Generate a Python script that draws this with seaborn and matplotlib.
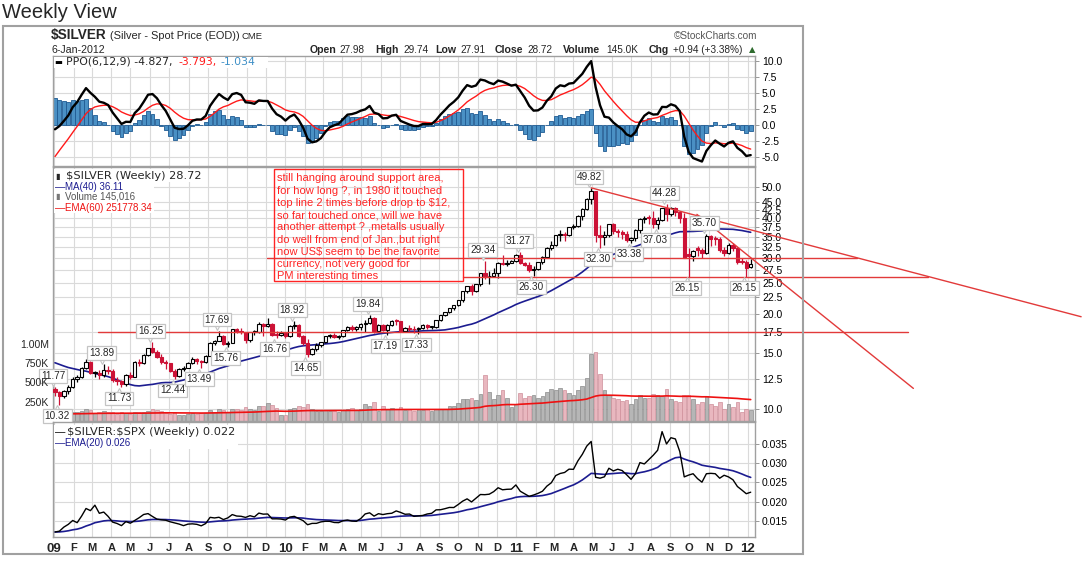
import numpy as np
import pandas as pd
import matplotlib
matplotlib.use("Agg")
import matplotlib.pyplot as plt
import matplotlib.patches as mpatches
import matplotlib.transforms as mtransforms
import matplotlib.ticker as mticker
import matplotlib.dates as mdates
import seaborn as sns

# ── Style ──────────────────────────────────────────────────────
sns.set_theme(style="white")
plt.rcParams.update({
    "font.family": ["Liberation Sans", "DejaVu Sans"],
    "axes.facecolor": "white",
    "figure.facecolor": "white",
})

CANDLE_RED = "#cc1236"
GRID = "#dadada"
SPINE = "#a0a0a0"
NAVY = "#1c1c90"
HIST_FACE = "#4a90c4"
HIST_EDGE = "#1f5b93"
VOL_UP, VOL_UP_EDGE = "#b6b6b6", "#8c8c8c"
VOL_DN, VOL_DN_EDGE = "#e9b7bf", "#cf8f9a"
TREND = "#e23a3a"
ANNO = "#ff2424"
LABEL_EDGE = "#c4c4c4"

# ── Data (weekly, 2-Jan-2009 .. 6-Jan-2012) ────────────────────
weeks = pd.date_range("2009-01-02", periods=158, freq="W-FRI")

open_ = [
    11.60, 11.30, 11.00, 11.40, 11.75, 12.50, 12.65, 13.45, 14.05, 13.00,
    13.05, 12.85, 13.30, 13.20, 12.40, 12.30, 12.00, 12.85, 12.65, 14.05,
    14.00, 14.80, 15.55, 15.20, 14.65, 14.10, 13.95, 13.25, 12.75, 13.35,
    13.50, 14.00, 14.40, 14.20, 14.10, 14.75, 16.20, 16.45, 17.05, 16.05,
    16.20, 17.85, 17.70, 17.50, 16.50, 17.50, 17.55, 18.60, 18.30, 18.60,
    17.20, 17.15,
    17.45, 17.00, 18.35, 18.40, 17.05, 16.20, 14.95, 15.45, 15.95, 16.30,
    17.00, 17.15, 16.95, 17.00, 17.75, 18.20, 17.85, 18.15, 18.55, 18.70,
    19.45, 17.70, 18.40, 17.75, 18.45, 19.00, 18.95, 17.60, 18.05, 17.90,
    17.85, 18.00, 18.45, 18.15, 18.20, 19.05, 19.80, 20.20, 20.85, 21.25,
    22.10, 23.50, 24.40, 23.60, 24.75, 26.80, 26.20, 26.35, 26.90, 28.95,
    28.65, 28.90, 29.25,
    30.65, 28.90, 28.50, 27.45, 27.75, 29.05, 30.20, 32.30, 32.90, 35.40,
    35.65, 35.30, 37.40, 37.85, 40.65, 42.65, 46.05, 48.60, 35.30, 34.95,
    35.30, 38.20, 36.40, 36.15, 35.70, 34.25, 34.60, 36.70, 39.70, 40.10,
    40.00, 38.45, 39.35, 42.95, 41.20, 43.00, 41.90, 40.15, 30.90, 30.45,
    32.10, 31.85, 31.05, 35.05, 34.60, 34.45, 31.75, 31.15, 32.90, 32.25,
    29.20, 29.15,
    27.98,
]
high = [
    11.77, 11.45, 11.50, 11.90, 12.60, 12.85, 13.55, 14.40, 14.15, 13.25,
    13.30, 13.89, 13.70, 13.35, 12.60, 12.40, 12.95, 13.10, 14.15, 14.45,
    14.90, 15.65, 16.25, 15.35, 14.90, 14.35, 14.00, 13.35, 13.45, 13.70,
    14.05, 14.65, 14.50, 14.30, 14.85, 16.25, 16.55, 17.69, 17.20, 16.40,
    17.95, 18.10, 18.05, 17.55, 17.55, 17.80, 18.80, 18.75, 19.40, 18.65,
    17.65, 17.60,
    17.55, 18.45, 18.92, 18.50, 17.10, 16.65, 15.65, 16.15, 16.35, 17.05,
    17.25, 17.45, 17.20, 17.80, 18.35, 18.40, 18.25, 18.65, 19.05, 19.84,
    19.50, 18.55, 18.60, 18.50, 19.10, 19.25, 19.00, 18.15, 18.45, 18.25,
    18.15, 18.55, 18.60, 18.35, 19.10, 19.85, 20.25, 20.90, 21.35, 22.15,
    23.60, 24.45, 24.75, 24.80, 26.90, 29.34, 27.20, 27.90, 29.00, 30.70,
    29.50, 29.50, 30.90,
    31.27, 29.15, 29.00, 28.20, 29.20, 30.40, 32.40, 33.90, 35.45, 36.65,
    36.10, 37.60, 38.20, 40.80, 42.95, 46.40, 49.82, 48.70, 38.15, 36.35,
    38.40, 38.70, 37.00, 36.75, 36.40, 34.90, 37.00, 39.90, 40.50, 40.85,
    42.00, 40.40, 43.20, 44.28, 43.50, 43.35, 42.20, 41.60, 32.10, 31.80,
    32.70, 32.30, 35.70, 35.30, 35.25, 35.00, 32.40, 33.50, 33.30, 32.50,
    29.90, 29.45,
    29.74,
]
low = [
    11.05, 10.32, 10.85, 11.20, 11.65, 12.20, 12.55, 13.35, 12.90, 12.60,
    12.50, 12.65, 12.95, 12.20, 11.90, 11.73, 11.85, 12.45, 12.60, 13.70,
    13.85, 14.70, 15.00, 14.50, 13.85, 13.40, 13.10, 12.44, 12.65, 13.20,
    13.45, 13.90, 13.90, 13.49, 14.00, 14.70, 15.90, 16.40, 15.95, 15.76,
    16.15, 17.35, 17.25, 16.20, 16.25, 17.10, 17.45, 17.05, 18.20, 17.00,
    16.76, 17.05,
    16.80, 16.95, 17.95, 16.85, 15.90, 14.65, 14.80, 15.30, 15.70, 16.20,
    16.80, 16.75, 16.60, 16.95, 17.60, 17.65, 17.70, 17.80, 17.55, 18.60,
    17.40, 17.60, 17.65, 17.19, 18.25, 18.45, 17.55, 17.50, 17.65, 17.45,
    17.33, 17.85, 17.85, 17.90, 18.00, 18.95, 19.70, 20.05, 20.55, 21.10,
    21.70, 23.30, 22.95, 23.40, 24.45, 25.70, 24.90, 26.10, 26.00, 28.50,
    28.30, 28.85, 29.10,
    28.65, 28.35, 27.05, 26.30, 27.40, 28.70, 29.90, 31.75, 32.80, 34.00,
    33.85, 35.20, 36.95, 37.40, 39.50, 42.50, 44.20, 33.60, 32.30, 32.95,
    34.90, 35.60, 35.00, 34.35, 33.60, 33.38, 33.90, 35.80, 38.50, 38.40,
    37.30, 37.03, 39.10, 39.30, 40.75, 40.70, 38.70, 29.90, 26.15, 29.35,
    30.50, 30.00, 30.90, 32.80, 33.00, 31.20, 30.30, 30.95, 31.50, 28.75,
    28.70, 26.15,
    27.91,
]
close = [
    11.30, 11.00, 11.40, 11.75, 12.50, 12.65, 13.45, 14.05, 13.00, 13.05,
    12.85, 13.30, 13.20, 12.40, 12.30, 12.00, 12.85, 12.65, 14.05, 14.00,
    14.80, 15.55, 15.20, 14.65, 14.10, 13.95, 13.25, 12.75, 13.35, 13.50,
    14.00, 14.40, 14.20, 14.10, 14.75, 16.20, 16.45, 17.05, 16.05, 16.20,
    17.85, 17.70, 17.50, 16.50, 17.50, 17.55, 18.60, 18.30, 18.60, 17.20,
    17.15, 17.45,
    17.00, 18.35, 18.40, 17.05, 16.20, 14.95, 15.45, 15.95, 16.30, 17.00,
    17.15, 16.95, 17.00, 17.75, 18.20, 17.85, 18.15, 18.55, 18.70, 19.45,
    17.70, 18.40, 17.75, 18.45, 19.00, 18.95, 17.60, 18.05, 17.90, 17.85,
    18.00, 18.45, 18.15, 18.20, 19.05, 19.80, 20.20, 20.85, 21.25, 22.10,
    23.50, 24.40, 23.60, 24.75, 26.80, 26.20, 26.35, 26.90, 28.95, 28.65,
    28.90, 29.25, 30.65,
    28.90, 28.50, 27.45, 27.75, 29.05, 30.20, 32.30, 32.90, 35.40, 35.65,
    35.30, 37.40, 37.85, 40.65, 42.65, 46.05, 48.60, 35.30, 34.95, 35.30,
    38.20, 36.40, 36.15, 35.70, 34.25, 34.60, 36.70, 39.70, 40.10, 40.00,
    38.45, 39.35, 42.95, 41.20, 43.00, 41.90, 40.15, 30.05, 30.45, 31.50,
    31.85, 31.05, 35.05, 34.30, 34.45, 31.75, 31.15, 32.90, 32.25, 29.20,
    29.15, 27.78,
    28.72,
]
# volume in millions
volume_m = [
    0.09, 0.14, 0.10, 0.10, 0.12, 0.11, 0.13, 0.15, 0.14, 0.10,
    0.11, 0.13, 0.12, 0.12, 0.09, 0.11, 0.10, 0.09, 0.12, 0.11,
    0.11, 0.13, 0.15, 0.14, 0.13, 0.10, 0.09, 0.11, 0.08, 0.08,
    0.09, 0.10, 0.09, 0.10, 0.10, 0.14, 0.12, 0.15, 0.14, 0.12,
    0.15, 0.16, 0.14, 0.18, 0.15, 0.14, 0.19, 0.20, 0.23, 0.21,
    0.17, 0.08,
    0.08, 0.16, 0.17, 0.20, 0.18, 0.22, 0.15, 0.13, 0.13, 0.14,
    0.13, 0.13, 0.12, 0.14, 0.16, 0.17, 0.14, 0.16, 0.22, 0.20,
    0.25, 0.13, 0.20, 0.15, 0.17, 0.16, 0.18, 0.14, 0.15, 0.13,
    0.15, 0.14, 0.16, 0.13, 0.15, 0.16, 0.15, 0.19, 0.20, 0.23,
    0.28, 0.29, 0.30, 0.27, 0.35, 0.60, 0.38, 0.28, 0.33, 0.40,
    0.30, 0.18, 0.22,
    0.36, 0.30, 0.32, 0.34, 0.30, 0.32, 0.38, 0.42, 0.40, 0.43,
    0.40, 0.36, 0.34, 0.40, 0.45, 0.55, 0.87, 0.89, 0.61, 0.40,
    0.33, 0.30, 0.28, 0.26, 0.27, 0.22, 0.28, 0.33, 0.30, 0.30,
    0.35, 0.33, 0.32, 0.42, 0.28, 0.26, 0.25, 0.33, 0.33, 0.28,
    0.22, 0.24, 0.32, 0.22, 0.20, 0.25, 0.16, 0.22, 0.18, 0.24,
    0.12, 0.16,
    0.145,
]
# S&P 500 weekly closes for the $SILVER:$SPX ratio panel
spx_close = [
    931, 890, 850, 832, 826, 869, 827, 770, 735, 683,
    756, 768, 816, 843, 857, 870, 866, 877, 929, 883,
    887, 919, 940, 946, 921, 918, 896, 879, 940, 979,
    987, 1010, 1005, 1026, 1029, 1016, 1042, 1068, 1044, 1025,
    1071, 1087, 1079, 1036, 1069, 1093, 1091, 1091, 1106, 1106,
    1102, 1126,
    1115, 1145, 1136, 1092, 1074, 1066, 1075, 1109, 1104, 1139,
    1150, 1160, 1167, 1179, 1194, 1192, 1217, 1187, 1111, 1136,
    1088, 1089, 1065, 1092, 1117, 1076, 1022, 1078, 1065, 1102,
    1102, 1122, 1079, 1071, 1065, 1105, 1110, 1126, 1149, 1146,
    1166, 1176, 1183, 1183, 1225, 1200, 1200, 1189, 1225, 1240,
    1244, 1257, 1258,
    1272, 1293, 1283, 1276, 1310, 1329, 1343, 1320, 1321, 1304,
    1279, 1314, 1332, 1328, 1320, 1337, 1363, 1340, 1338, 1333,
    1331, 1300, 1271, 1271, 1268, 1340, 1344, 1316, 1345, 1292,
    1199, 1179, 1124, 1177, 1174, 1154, 1216, 1136, 1131, 1155,
    1225, 1238, 1285, 1253, 1263, 1216, 1159, 1244, 1255, 1219,
    1265, 1258,
    1278,
]
# Apr-Dec 2008 weekly closes: warm-up history for MA(40) and PPO
close_2008 = [
    17.60, 17.90, 17.60, 16.60, 16.40, 17.20, 16.70, 17.60, 16.80, 17.30,
    16.80, 17.50, 17.70, 18.30, 18.80, 18.00, 17.60, 17.60, 15.10, 12.80,
    13.80, 13.60, 12.00, 11.30, 12.90, 13.30, 11.10, 9.90, 9.70, 9.00,
    10.00, 10.10, 9.70, 9.30, 10.10, 9.60, 10.30, 11.00, 10.80,
]

# swing labels (week index)
swing_high_idx = [0, 11, 22, 37, 54, 71, 97, 105, 121, 138, 147]
swing_low_idx = [1, 15, 27, 33, 39, 50, 57, 75, 82, 108, 123, 130, 136, 143, 156]

# hand-drawn lines: (start date, start price, end date, end price)
drawn_lines = [
    ("2011-04-29", 49.82, "2013-06-11", 19.57),
    ("2011-10-13", 41.10, "2012-09-19", 11.64),
    ("2009-12-03", 30.00, "2012-06-22", 30.00),
    ("2010-10-08", 26.15, "2012-10-12", 26.15),
    ("2009-03-11", 17.50, "2012-09-10", 17.50),
]

note_lines = [
    "still hanging around support area,",
    "for how long ?, in 1980 it touched",
    "top line 2 times before drop to \\$12,",
    "so far touched once, will we have",
    "another attempt ? ,metalls usually",
    "do well from end of Jan.,but right",
    "now US\\$ seem to be the favorite",
    "currency, not very good for",
    "PM interesting times",
]

N = len(weeks)
for arr in (open_, high, low, close, volume_m, spx_close):
    assert len(arr) == N, len(arr)

o, h, l, c = (np.array(a, dtype=float) for a in (open_, high, low, close))
vol = np.array(volume_m)
up = c >= o

# ── Indicators ────────────────────────────────────────────────
full = pd.Series(close_2008 + close)
ma40 = full.rolling(40).mean().to_numpy()[-N:]
ema6 = full.ewm(span=6, adjust=False).mean()
ema12 = full.ewm(span=12, adjust=False).mean()
ppo_s = (ema6 - ema12) / ema12 * 100
sig_s = ppo_s.ewm(span=9, adjust=False).mean()
ppo = ppo_s.to_numpy()[-N:]
sig = sig_s.to_numpy()[-N:]
hist = ppo - sig
vol_ema = pd.Series(vol).ewm(span=60, adjust=False).mean().to_numpy()
ratio = c / np.array(spx_close, dtype=float)
ratio_ema = pd.Series(ratio).ewm(span=20, adjust=False).mean().to_numpy()

xs = mdates.date2num(weeks)

# ── Figure / panels (pixel layout) ────────────────────────────
W, H = 1089, 561
fig = plt.figure(figsize=(W / 100, H / 100), dpi=100)


def pax(x0, y0, x1, y1, **kw):
    return fig.add_axes([x0 / W, 1 - y1 / H, (x1 - x0) / W, (y1 - y0) / H], **kw)


def ptext(x, y, s, **kw):
    kw.setdefault("va", "center")
    return fig.text(x / W, 1 - y / H, s, **kw)


def pbox(x0, y0, x1, y1, **kw):
    r = mpatches.Rectangle((x0 / W, 1 - y1 / H), (x1 - x0) / W, (y1 - y0) / H,
                           transform=fig.transFigure, **kw)
    fig.add_artist(r)
    return r


ax_ppo = pax(53, 56, 755, 166)
ax_px = pax(53, 167, 755, 421, sharex=ax_ppo)
ax_rt = pax(53, 422, 755, 537, sharex=ax_ppo)

ppd = (750.7 - 55) / (xs[-1] - xs[0])  # pixels per day
XLIM = (xs[0] - 2 / ppd, xs[0] + 700 / ppd)

months = pd.date_range("2009-01-01", "2012-01-01", freq="MS")
mx = mdates.date2num(months)
mlabels = [f"{m.year % 100:02d}" if m.month == 1 else m.strftime("%b")[0] for m in months]

# volume scale lives on a twin axis (left labels); twinx moves ticks, so style after it
ax_vol = ax_px.twinx()

for ax in (ax_ppo, ax_px, ax_rt):
    ax.set_axisbelow(True)
    ax.xaxis.set_major_locator(mticker.FixedLocator(mx))
    ax.grid(True, color=GRID, linewidth=0.8)
    ax.yaxis.tick_right()
    ax.tick_params(axis="y", which="major", length=3, width=0.6, color="#888888",
                   labelsize=7.5, pad=2, labelcolor="black", left=False, labelleft=False,
                   right=True, labelright=True)
    ax.tick_params(axis="x", which="both", length=0)
    for sp in ax.spines.values():
        sp.set_color(SPINE)
        sp.set_linewidth(1)

ax_ppo.tick_params(axis="x", labelbottom=False)
ax_px.tick_params(axis="x", labelbottom=False)

# ── PPO panel ─────────────────────────────────────────────────
ax_ppo.bar(xs, hist, width=6.2, color=HIST_FACE, edgecolor=HIST_EDGE, linewidth=0.6, zorder=2)
sns.lineplot(x=xs, y=sig, ax=ax_ppo, color="#ff1a1a", linewidth=1.0, zorder=3)
sns.lineplot(x=xs, y=ppo, ax=ax_ppo, color="black", linewidth=1.7, zorder=4)
ax_ppo.set_ylim(-6.46, 10.78)
ax_ppo.yaxis.set_major_locator(mticker.FixedLocator([-5, -2.5, 0, 2.5, 5, 7.5, 10]))
ax_ppo.yaxis.set_major_formatter(mticker.FormatStrFormatter("%.1f"))

# ── Price panel ───────────────────────────────────────────────
ax_px.set_yscale("log")
ax_px.set_ylim(9.19, 57.95)
price_ticks = [10, 12.5, 15, 17.5, 20, 22.5, 25, 27.5, 30, 32.5, 35, 37.5, 40, 42.5, 45, 50]
ax_px.yaxis.set_major_locator(mticker.FixedLocator(price_ticks))
ax_px.yaxis.set_minor_locator(mticker.NullLocator())
ax_px.yaxis.set_major_formatter(mticker.FormatStrFormatter("%.1f"))

ax_vol.set_ylim(0, 254 / 77.3)
ax_vol.yaxis.set_ticks_position("left")
ax_vol.yaxis.set_label_position("left")
ax_vol.yaxis.set_major_locator(mticker.FixedLocator([0.25, 0.5, 0.75, 1.0]))
ax_vol.yaxis.set_major_formatter(mticker.FixedFormatter(["250K", "500K", "750K", "1.00M"]))
ax_vol.tick_params(axis="y", length=0, labelsize=7.5, pad=3, left=True, labelleft=True,
                   right=False, labelright=False)
ax_vol.patch.set_visible(False)
for sp in ax_vol.spines.values():
    sp.set_visible(False)

vol_tr = mtransforms.blended_transform_factory(ax_px.transData, ax_vol.transData)
ax_px.bar(xs[up], vol[up], width=5.8, color=VOL_UP, edgecolor=VOL_UP_EDGE, linewidth=0.5,
          transform=vol_tr, zorder=1)
ax_px.bar(xs[~up], vol[~up], width=5.8, color=VOL_DN, edgecolor=VOL_DN_EDGE, linewidth=0.5,
          transform=vol_tr, zorder=1)
ax_px.plot(xs, vol_ema, color="#ee1111", linewidth=1.2, transform=vol_tr, zorder=2)

sns.lineplot(x=xs, y=ma40, ax=ax_px, color=NAVY, linewidth=1.2, zorder=3)

body_lo = np.minimum(o, c)
body_hi = np.maximum(np.maximum(o, c), body_lo * 1.006)
ax_px.vlines(xs[up], l[up], h[up], color="black", linewidth=0.9, zorder=4)
ax_px.vlines(xs[~up], l[~up], h[~up], color=CANDLE_RED, linewidth=0.9, zorder=4)
ax_px.bar(xs[up], (body_hi - body_lo)[up], bottom=body_lo[up], width=5.3, color="white",
          edgecolor="black", linewidth=0.8, zorder=5)
ax_px.bar(xs[~up], (body_hi - body_lo)[~up], bottom=body_lo[~up], width=5.3, color=CANDLE_RED,
          edgecolor=CANDLE_RED, linewidth=0.8, zorder=5)

# swing labels: boxed value with a small pointer towards the candle
box_style = dict(boxstyle="square,pad=0.18", fc="white", ec=LABEL_EDGE, lw=0.9)
tip_up = mtransforms.offset_copy(ax_px.transData, fig=fig, x=-1.5, y=3.2, units="points")
tip_dn = mtransforms.offset_copy(ax_px.transData, fig=fig, x=-1.5, y=-3.2, units="points")
for idx, vals, tr, mk, dy in ((swing_high_idx, h, tip_up, "v", 8),
                               (swing_low_idx, l, tip_dn, "^", -8)):
    ax_px.plot(xs[idx], vals[idx], linestyle="none", marker=mk, markersize=5.5,
               markerfacecolor="white", markeredgecolor=LABEL_EDGE, markeredgewidth=0.8,
               transform=tr, zorder=6.5, clip_on=False)
    for i in idx:
        ax_px.annotate(f"{vals[i]:.2f}", xy=(xs[i], vals[i]), xytext=(-1.5, dy),
                       textcoords="offset points", ha="center", va="center", fontsize=7.2,
                       bbox=box_style, zorder=7, annotation_clip=False)

for d0, p0, d1, p1 in drawn_lines:
    ax_px.plot(mdates.date2num(pd.to_datetime([d0, d1])), [p0, p1], color=TREND,
               linewidth=1.0, clip_on=False, zorder=6)

# ── Ratio panel ───────────────────────────────────────────────
sns.lineplot(x=xs, y=ratio_ema, ax=ax_rt, color=NAVY, linewidth=1.2)
sns.lineplot(x=xs, y=ratio, ax=ax_rt, color="black", linewidth=1.0)
ax_rt.set_ylim(0.01084, 0.04071)
ax_rt.yaxis.set_major_locator(mticker.FixedLocator([0.015, 0.02, 0.025, 0.03, 0.035]))
ax_rt.yaxis.set_major_formatter(mticker.FormatStrFormatter("%.3f"))
ax_rt.xaxis.set_major_formatter(mticker.FixedFormatter(mlabels))
ax_rt.xaxis.set_minor_locator(mticker.FixedLocator(xs))
ax_rt.tick_params(axis="x", which="major", labelsize=8, pad=4)
ax_rt.tick_params(axis="x", which="minor", length=1.5, color="#999999")
for t, lab in zip(ax_rt.get_xticklabels(), mlabels):
    t.set_fontweight("bold")
    if lab.isdigit():
        t.set_fontsize(9.5)

for ax in (ax_ppo, ax_px, ax_rt, ax_vol):
    ax.set_xlabel("")
    ax.set_ylabel("")
ax_ppo.set_xlim(*XLIM)

# ── Legends / header texts ───────────────────────────────────
pbox(54, 56.5, 268, 68, facecolor="white", edgecolor="none")
ptext(54, 62, "\u25ac", fontsize=6, color="black", family="DejaVu Sans")
ptext(66, 62, "PPO(6,12,9) -4.827,", fontsize=7.8, family="DejaVu Sans")
ptext(178, 62, "-3.793,", fontsize=7.8, color="#ff1a1a", family="DejaVu Sans")
ptext(220, 62, "-1.034", fontsize=7.8, color="#3d8fc6", family="DejaVu Sans")

pbox(54, 169, 204, 182, facecolor="white", edgecolor="none")
pbox(54, 182, 154, 213, facecolor="white", edgecolor="none")
ptext(55, 176, "\u25ae", fontsize=6, family="DejaVu Sans")
ptext(66, 176, "\\$SILVER (Weekly) 28.72", fontsize=8.2, family="DejaVu Sans")
ptext(55, 187, "\u2014", fontsize=7.5, color=NAVY)
ptext(65, 187, "MA(40) 36.11", fontsize=7, color=NAVY)
ptext(55, 197, "\u25ae", fontsize=6, color="#777777", family="DejaVu Sans")
ptext(65, 197, "Volume 145,016", fontsize=7, color="#555555")
ptext(55, 208, "\u2014", fontsize=7.5, color="#ee1111")
ptext(65, 208, "EMA(60) 251778.34", fontsize=7, color="#ee1111")

pbox(54, 425, 238, 449, facecolor="white", edgecolor="none")
ptext(55, 432, "\u2014", fontsize=7.5, color="black")
ptext(67, 432, "\\$SILVER:\\$SPX (Weekly) 0.022", fontsize=8.2, family="DejaVu Sans")
ptext(55, 443, "\u2014", fontsize=7.5, color=NAVY)
ptext(65, 443, "EMA(20) 0.026", fontsize=7, color=NAVY)

ptext(2, 12, "Weekly View", fontsize=14.5)
ptext(51, 35.5, "\\$SILVER", fontsize=9.8, fontweight="bold")
ptext(110, 36, "(Silver - Spot Price (EOD))", fontsize=7.9)
ptext(241, 36.5, "CME", fontsize=6.8)
ptext(757, 36, "\u00a9StockCharts.com", fontsize=7.2, color="#555555", ha="right")
ptext(51, 49.7, "6-Jan-2012", fontsize=7.7)
quote = [(310, "Open", True), (339, "27.98", False), (375, "High", True), (403, "29.74", False),
         (435, "Low", True), (460, "27.91", False), (495, "Close", True), (527, "28.72", False),
         (563, "Volume", True), (606, "145.0K", False), (649, "Chg", True),
         (673, "+0.94 (+3.38%)", False)]
for x, s, bold in quote:
    ptext(x, 50, s, fontsize=7.6 if bold else 7.2, fontweight="bold" if bold else "normal")
ptext(752, 50, "\u25b2", fontsize=6, color="#2e6b2e", ha="center", family="DejaVu Sans")

# annotation note
pbox(274, 169, 463, 281, fill=False, edgecolor=ANNO, linewidth=1)
clip = mtransforms.TransformedBbox(
    mtransforms.Bbox.from_extents(274 / W, 1 - 279.5 / H, 463 / W, 1 - 169 / H), fig.transFigure)
for k, line in enumerate(note_lines):
    t = ptext(277, 178.5 + 12.2 * k, line, fontsize=8, color=ANNO)
    t.set_clip_box(clip)
    t.set_clip_on(True)

# outer frame
pbox(3, 26, 803, 554, fill=False, edgecolor="#a0a0a0", linewidth=1.5)

fig.savefig("out.png", dpi=100)
